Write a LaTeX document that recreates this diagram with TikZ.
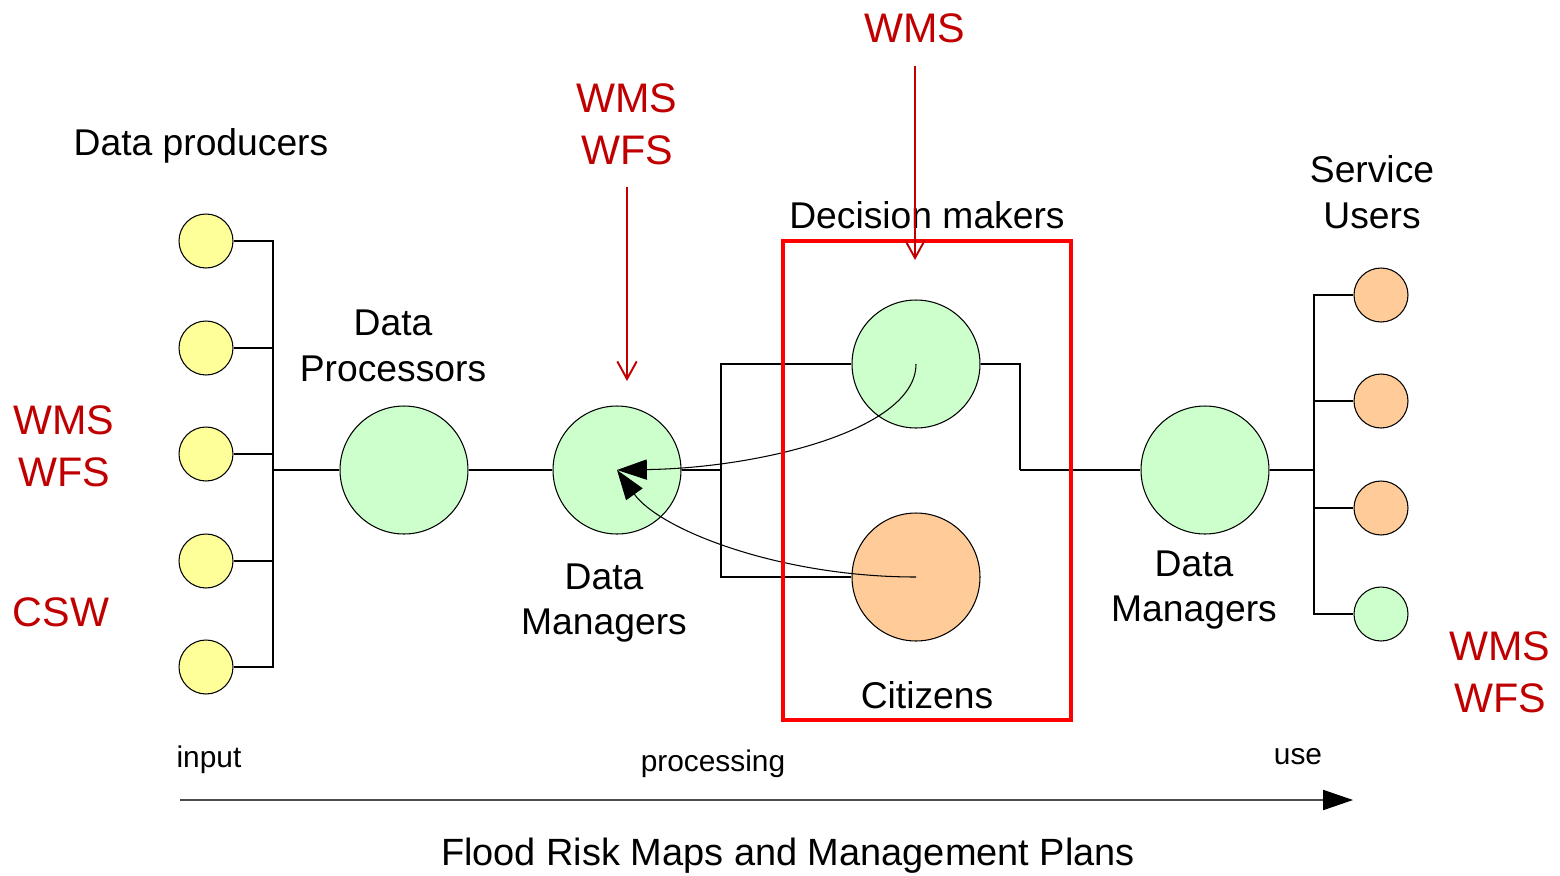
\documentclass[tikz,border=0pt]{standalone}
\usepackage{fontspec}
\setmainfont{Liberation Sans}
\usetikzlibrary{arrows.meta}
\definecolor{prodyellow}{HTML}{FFFF99}
\definecolor{palegreen}{HTML}{CCFFCC}
\definecolor{paleorange}{HTML}{FFCC99}
\definecolor{stdred}{HTML}{C00000}
\definecolor{boxred}{HTML}{FF0000}
\begin{document}
\begin{tikzpicture}[x=0.02cm,y=-0.02cm,
  link/.style={line width=0.6pt,black},
  bignode/.style={circle,draw,line width=0.6pt,minimum size=2.56cm,inner sep=0pt},
  smallnode/.style={circle,draw,line width=0.6pt,minimum size=1.08cm,inner sep=0pt},
  lbl/.style={align=center,font=\fontsize{21.2}{26}\selectfont},
  small/.style={font=\fontsize{17}{20}\selectfont},
  stdlbl/.style={align=center,text=stdred,font=\fontsize{23.5}{29.5}\selectfont},
  stdarrow/.style={draw=stdred,line width=1.1pt,-{Straight Barb[length=10pt,width=11pt]}},
  flow/.style={line width=0.6pt,-{Triangle[length=17pt,width=11.5pt]}}
]
\useasboundingbox (0,0) rectangle (1560,876);

% data producers
\foreach \i/\yy in {1/241,2/348,3/454,4/561,5/667}
  \node[smallnode,fill=prodyellow] (p\i) at (206,\yy) {};
% service users
\node[smallnode,fill=paleorange] (u1) at (1381,295) {};
\node[smallnode,fill=paleorange] (u2) at (1381,401) {};
\node[smallnode,fill=paleorange] (u3) at (1381,508) {};
\node[smallnode,fill=palegreen]  (u4) at (1381,614) {};

% main chain
\node[bignode,fill=palegreen]  (dp)  at (404,470) {};
\node[bignode,fill=palegreen]  (dm)  at (617,470) {};
\node[bignode,fill=palegreen]  (dec) at (916,364) {};
\node[bignode,fill=paleorange] (cit) at (916,577) {};
\node[bignode,fill=palegreen]  (dm2) at (1205,470) {};

% bus junctions
\coordinate (busL) at (273,470);
\coordinate (jL)   at (721,470);
\coordinate (jR)   at (1020,470);
\coordinate (busR) at (1314,470);

% wiring
\foreach \i in {1,...,5} \draw[link] (p\i.east) -| (busL);
\draw[link] (busL) -- (dp.west);
\draw[link] (dp.east) -- (dm.west);
\draw[link] (dm.east) -- (jL);
\draw[link] (jL) |- (dec.west);
\draw[link] (jL) |- (cit.west);
\draw[link] (dec.east) -| (jR);
\draw[link] (jR) -- (dm2.west);
\draw[link] (dm2.east) -- (busR);
\foreach \i in {1,...,4} \draw[link] (busR) |- (u\i.west);

% feedback arrows
\draw[flow] (dec.center) .. controls (916,430) and (760,468) .. (dm.center);
\draw[flow] (cit.center) .. controls (780,577) and (660,530) .. (dm.center);

% decision box
\node[draw=boxred,line width=1.8pt,minimum width=5.76cm,minimum height=9.58cm,inner sep=0pt] (box) at (927,480.5) {};

% labels
\node[lbl] (tprod) at (201,146) {Data producers};
\node[lbl] (tdp)   at (393,346) {Data\\Processors};
\node[lbl] (tdm)   at (604,603) {Data\\Managers};
\node[lbl] (tdec)  at (927,215) {Decision makers};
\node[lbl] (tsu)   at (1372,192) {Service\\Users};
\node[lbl] (tdm2)  at (1194,590) {Data\\Managers};
\node[lbl] (tcit)  at (927,695) {Citizens};

% service standards
\node[stdlbl] (sL)   at (64,446)  {WMS\\WFS};
\node[stdlbl] (sCSW) at (61,612)  {CSW};
\node[stdlbl] (sM)   at (627,124) {WMS\\WFS};
\node[stdlbl] (sT)   at (915,28)  {WMS};
\node[stdlbl] (sR)   at (1500,672) {WMS\\WFS};

\coordinate (aMs) at (627,187);
\coordinate (aMe) at (627,381);
\coordinate (aTs) at (915,66);
\coordinate (aTe) at (915,260);
\draw[stdarrow] (aMs) -- (aMe);
\draw[stdarrow] (aTs) -- (aTe);

% process axis
\node[small] (tin)  at (209,760) {input};
\node[small] (tpr)  at (713,764) {processing};
\node[small] (tuse) at (1298,757) {use};
\coordinate (ax0) at (180,800);
\coordinate (ax1) at (1353,800);
\draw[line width=0.6pt,black!70,-{Triangle[length=17pt,width=11.5pt,color=black]}] (ax0) -- (ax1);
\node[lbl,font=\fontsize{21.6}{26}\selectfont] (ttitle) at (788,856) {Flood Risk Maps and Management Plans};
\end{tikzpicture}
\end{document}
